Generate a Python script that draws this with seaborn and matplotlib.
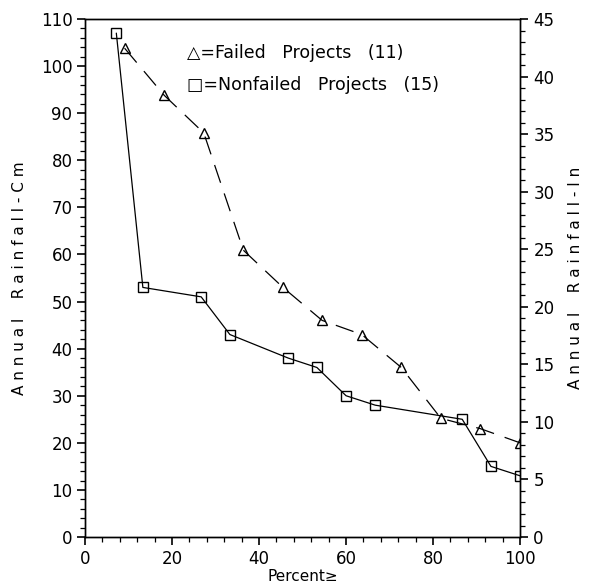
import numpy as np
import pandas as pd
import matplotlib
matplotlib.use("Agg")
import matplotlib.pyplot as plt
from matplotlib.ticker import MultipleLocator
import seaborn as sns

# Failed projects (triangles, dashed)
failed_pct = [9.1, 18.2, 27.3, 36.4, 45.5, 54.5, 63.6, 72.7, 81.8, 90.9, 100.0]
failed_rain = [103.8, 93.8, 85.8, 60.9, 53.0, 46.0, 43.0, 36.0, 25.2, 23.0, 20.0]

# Nonfailed projects (squares, solid)
nonfailed_pct = [7.2, 13.3, 26.7, 33.3, 46.7, 53.3, 60.0, 66.7, 86.7, 93.3, 100.0]
nonfailed_rain = [107.0, 53.0, 51.0, 43.0, 38.0, 36.0, 30.0, 28.0, 25.0, 15.0, 13.0]

legend_labels = ["\u25b3=Failed   Projects   (11)", "\u25a1=Nonfailed   Projects   (15)"]

sns.set_style("ticks")
plt.rcParams["font.family"] = ["DejaVu Sans"]
plt.rcParams["text.color"] = "black"
plt.rcParams["axes.labelcolor"] = "black"
plt.rcParams["xtick.color"] = "black"
plt.rcParams["ytick.color"] = "black"

fig = plt.figure(figsize=(5.89, 5.88), dpi=100)
ax = fig.add_axes([0.1443, 0.0867, 0.7387, 0.881])

df_f = pd.DataFrame({"pct": failed_pct, "rain": failed_rain})
df_n = pd.DataFrame({"pct": nonfailed_pct, "rain": nonfailed_rain})

sns.lineplot(data=df_f, x="pct", y="rain", ax=ax, color="black", lw=0.9,
             marker="^", markersize=7.5, markerfacecolor="none", markeredgecolor="black",
             markeredgewidth=1.0, linestyle=(0, (15, 9)))
sns.lineplot(data=df_n, x="pct", y="rain", ax=ax, color="black", lw=0.9,
             marker="s", markersize=6.5, markerfacecolor="none", markeredgecolor="black",
             markeredgewidth=1.0)

ax.set_xlim(0, 100)
ax.set_ylim(0, 110)
ax.xaxis.set_major_locator(MultipleLocator(20))
ax.xaxis.set_minor_locator(MultipleLocator(4))
ax.yaxis.set_major_locator(MultipleLocator(10))
ax.yaxis.set_minor_locator(MultipleLocator(2))
ax.tick_params(which="major", length=6, width=1.2, labelsize=12, pad=3)
ax.tick_params(which="minor", length=3.5, width=0.9)
for s in ax.spines.values():
    s.set_linewidth(1.0)
    s.set_color("black")

ax.set_xlabel("Percent\u2265", fontsize=11, labelpad=1)
ax.set_ylabel("A n n u a l    R a i n f a l l - C m", fontsize=11, labelpad=10)

ax2 = ax.twinx()
ax2.set_ylim(0, 45)
ax2.yaxis.set_major_locator(MultipleLocator(5))
ax2.yaxis.set_minor_locator(MultipleLocator(1))
ax2.tick_params(which="major", length=6, width=1.2, labelsize=12)
ax2.tick_params(which="minor", length=3.5, width=0.9)
ax2.set_ylabel("A n n u a l    R a i n f a l l - I n", fontsize=11, labelpad=10)
for s in ax2.spines.values():
    s.set_linewidth(1.0)
    s.set_color("black")

ax.text(0.235, 0.934, legend_labels[0], transform=ax.transAxes, fontsize=12.5, va="center")
ax.text(0.235, 0.873, legend_labels[1], transform=ax.transAxes, fontsize=12.5, va="center")

fig.savefig("out.png", dpi=100)
